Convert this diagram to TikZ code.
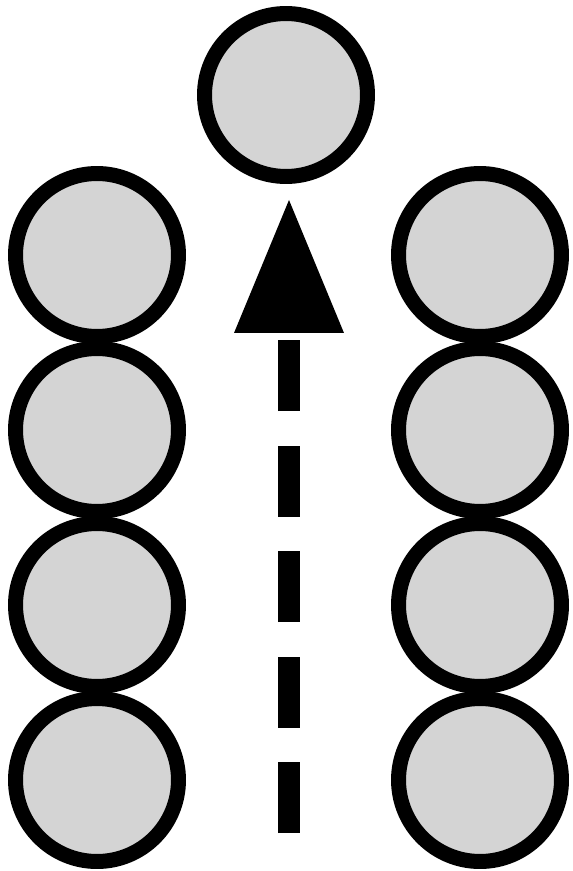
\documentclass[tikz,border=0pt]{standalone}
\usetikzlibrary{arrows.meta}

\begin{document}
\begin{tikzpicture}[
  x=0.02cm, y=-0.02cm,
  ball/.style={circle, draw=black, fill=black!17, line width=0.3cm,
               minimum size=3.26cm, inner sep=0pt},
  lane/.style={line width=0.44cm, dash pattern=on 1.42cm off 0.69cm,
               -{Triangle[width=2.2cm, length=2.66cm, line width=0pt]}}
]
\useasboundingbox (0,0) rectangle (573,871);
% ---- boule de tete -------------------------------------------------------
\node[ball] (top) at (286,95) {};
% ---- deux files de boules ------------------------------------------------
\foreach \y [count=\i] in {255,430,605,780}{
  \node[ball] (l\i) at (97,\y) {};
  \node[ball] (r\i) at (480,\y) {};
}
% ---- fleche pointillee ---------------------------------------------------
\coordinate (tail) at (289,833);
\coordinate (head) at (289,200);
\draw[lane] (tail) -- (head);
\end{tikzpicture}
\end{document}
